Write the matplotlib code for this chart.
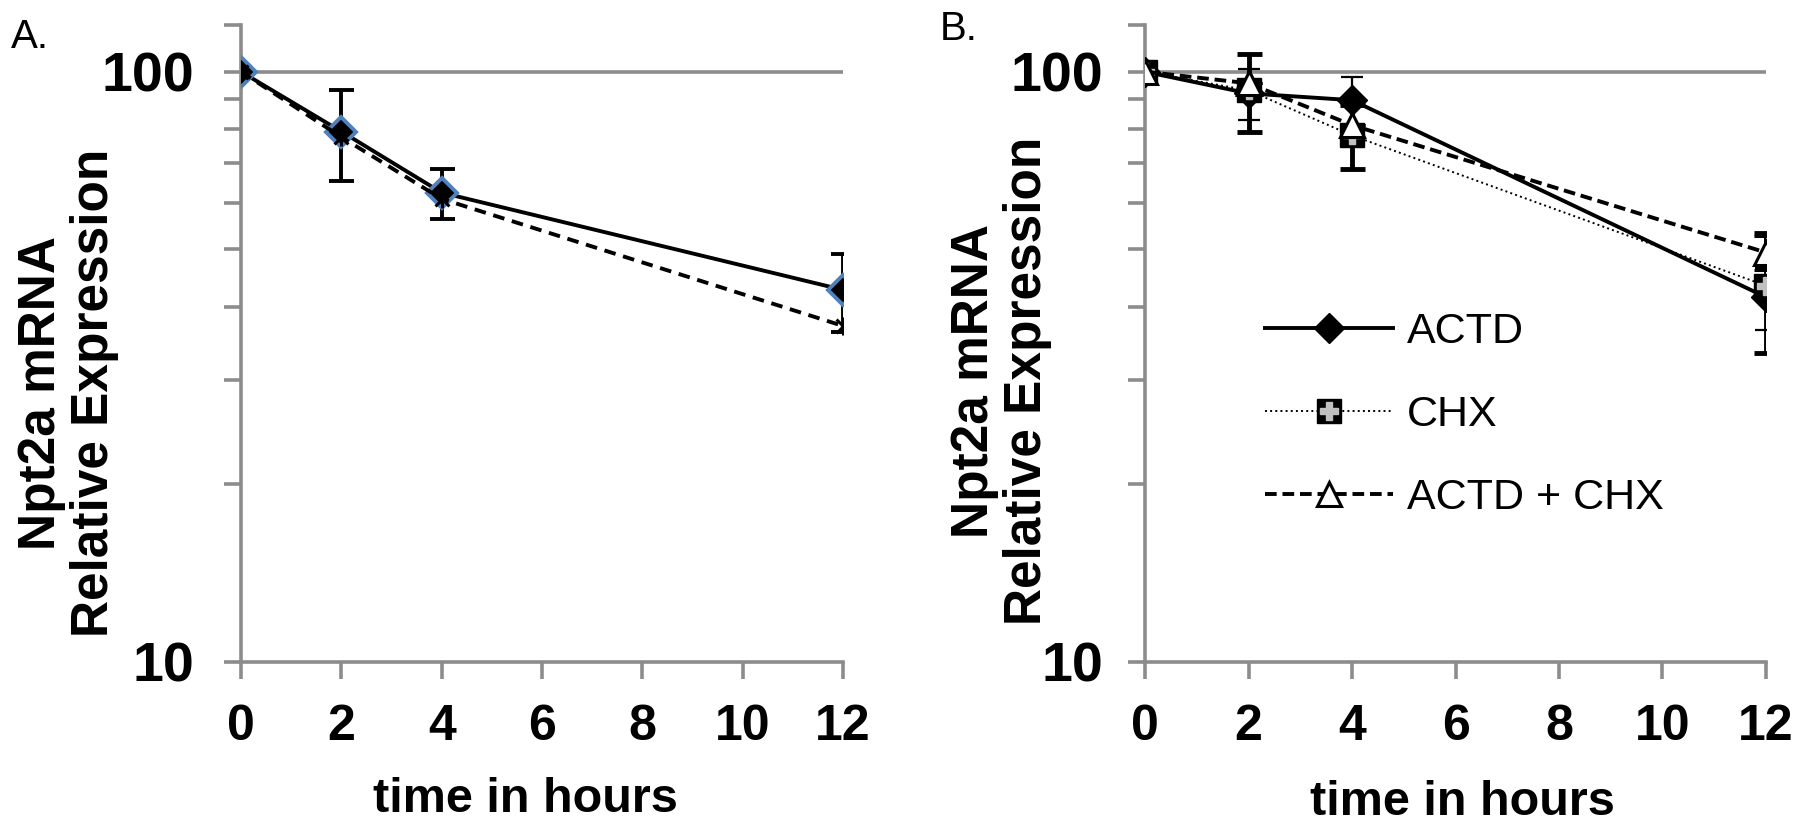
import matplotlib
matplotlib.use('Agg')
import matplotlib.pyplot as plt
from matplotlib.path import Path
from matplotlib.ticker import FixedLocator, NullFormatter, FixedFormatter
from matplotlib.legend_handler import HandlerTuple

plt.rcParams['font.family'] = ['Liberation Sans', 'DejaVu Sans']

# panel A data
hours_a = [0, 2, 4, 12]
actd_a = [100, 79.2, 62.4, 42.7]
actd_a_err = [0, 13.8, 6.0, 6.4]
other_a = [100, 77.5, 60.9, 37.1]

# panel B data
hours_b = [0, 2, 4, 12]
actd_b = [100, 91.9, 89.5, 41.5]
actd_b_err = [0, 9.0, 8.5, 5.0]
chx_b = [100, 93.0, 78.0, 43.4]
chx_b_err = [0, 14.0, 9.7, 10.0]
combo_b = [100, 95.6, 81.2, 49.4]
combo_b_err = [0, 0, 0, 3.3]

labels_b = ['ACTD', 'CHX', 'ACTD + CHX']
xticks = [0, 2, 4, 6, 8, 10, 12]
ymax = 120
GREY = '#8c8c8c'

# star marker like excel: X plus vertical bar
star = Path([(-1, -1), (1, 1), (-1, 1), (1, -1), (0, -1.3), (0, 1.3)],
            [Path.MOVETO, Path.LINETO, Path.MOVETO, Path.LINETO, Path.MOVETO, Path.LINETO])

fig = plt.figure(figsize=(18, 8.23), dpi=100)
ax_a = fig.add_axes([241 / 1800, 161 / 823, 602 / 1800, 637 / 823])
ax_b = fig.add_axes([1145 / 1800, 161 / 823, 621 / 1800, 637 / 823])


def style_axis(ax, ypad):
    ax.set_yscale('log')
    ax.set_ylim(10, ymax)
    ax.set_xlim(0, 12)
    for s in ['top', 'right']:
        ax.spines[s].set_visible(False)
    for s in ['left', 'bottom']:
        ax.spines[s].set_color(GREY)
        ax.spines[s].set_linewidth(2.6)
    ax.yaxis.set_major_locator(FixedLocator([10, 100]))
    ax.yaxis.set_major_formatter(FixedFormatter(['10', '100']))
    ax.yaxis.set_minor_locator(FixedLocator([20, 30, 40, 50, 60, 70, 80, 90, ymax]))
    ax.yaxis.set_minor_formatter(NullFormatter())
    ax.set_xticks(xticks)
    ax.tick_params(axis='both', which='both', direction='out', length=12,
                   width=2.6, color=GREY)
    ax.tick_params(axis='y', which='major', pad=ypad)
    ax.tick_params(axis='x', pad=18)
    for t in ax.get_yticklabels():
        t.set_fontsize(40)
        t.set_fontweight('bold')
    for t in ax.get_xticklabels():
        t.set_fontsize(36)
        t.set_fontweight('bold')
    ax.axhline(100, color=GREY, lw=2.6, zorder=0)
    ax.set_ylabel('Npt2a mRNA\nRelative Expression', fontsize=37,
                  fontweight='bold', linespacing=1.1)
    ax.set_xlabel('time in hours', fontsize=35, fontweight='bold',
                  va='baseline')


style_axis(ax_a, 22)
style_axis(ax_b, 18)

# panel A
ax_a.errorbar(hours_a, actd_a, yerr=actd_a_err, color='black', lw=2.8,
              elinewidth=2.8, capsize=9, capthick=2.8, marker='D',
              ms=15, mfc='black', mec='#4f81bd', mew=2.8, zorder=3)
ax_a.plot(hours_a, other_a, color='black', lw=2.8, ls=(0, (3, 2)),
          marker=star, ms=13, mfc='none', mec='black', mew=2.2, zorder=4)
ax_a.yaxis.set_label_coords(-0.203, 0.422)
ax_a.xaxis.set_label_coords(5.67 / 12, -0.2355)

# panel B
l1 = ax_b.errorbar(hours_b, actd_b, yerr=actd_b_err, color='black', lw=2.8,
                   elinewidth=1.6, capsize=8, capthick=1.6, marker='D',
                   ms=15, mfc='black', mec='black', zorder=3)
l2 = ax_b.errorbar(hours_b, chx_b, yerr=chx_b_err, color='black', lw=1.4,
                   ls=':', elinewidth=3.5, capsize=9, capthick=3.5, marker='s',
                   ms=17, mfc='black', mec='black', zorder=4)
l2b, = ax_b.plot(hours_b, chx_b, ls='none', marker='P', ms=13,
                 mfc='#c0c0c0', mec='#c0c0c0', zorder=5)
l3 = ax_b.errorbar(hours_b, combo_b, yerr=combo_b_err, color='black', lw=2.8,
                   ls=(0, (3, 1.5)), elinewidth=3.5, capsize=9, capthick=3.5,
                   marker='^', ms=17, mfc='white', mec='black', mew=2.2,
                   zorder=6)
ax_b.yaxis.set_label_coords(-0.15, 0.441)
ax_b.xaxis.set_label_coords(6.13 / 12, -0.24)

ax_b.legend([l1[0], (l2[0], l2b), l3[0]], labels_b,
            handler_map={tuple: HandlerTuple(ndivide=1, pad=0)},
            loc='upper left', bbox_to_anchor=(0.193, 0.549), frameon=False,
            fontsize=31, handlelength=2.97, handletextpad=0.33,
            labelspacing=1.0, borderaxespad=0, borderpad=0)

fig.text(0.006, 0.978, 'A.', fontsize=29, va='top', ha='left')
fig.text(0.522, 0.988, 'B.', fontsize=29, va='top', ha='left')

fig.savefig('out.png', dpi=100)
